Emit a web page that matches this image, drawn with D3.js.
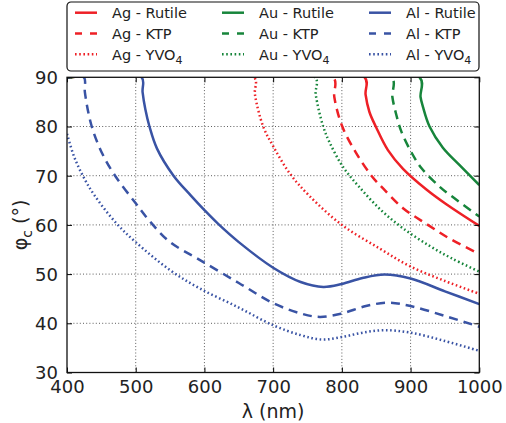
<!DOCTYPE html>
<html>
<head>
<meta charset="utf-8">
<script src="https://cdn.jsdelivr.net/npm/d3@7"></script>
<style>
  html, body { margin: 0; padding: 0; background: #fff; }
  svg { display: block; font-family: "DejaVu Sans", sans-serif; }
</style>
</head>
<body>
<svg id="chart" width="506" height="423"></svg>
<script>
// Critical angle φc versus wavelength λ for three metals on three substrates.
const wavelengthTicks = [400, 500, 600, 700, 800, 900, 1000];
const angleTicks = [30, 40, 50, 60, 70, 80, 90];

// [λ (nm), φc (°)]
const agRutile = [[400,90],[833,90],[834.5,86.5],[840,83],[850,79.8],[867,75.2],[889,71.4],[923,67.2],[952,64.2],[1000,59.8]];
const agKTP    = [[400,90],[787,90],[789,86],[800,80.2],[820,74.8],[843,70],[860,67.4],[889,63.4],[923,60.2],[957,57.2],[1000,54.1]];
const agYVO4   = [[400,90],[672,90],[673.5,86.5],[685.5,80],[700,76],[724,70.5],[752,66],[800,60],[855,55.2],[899,51.6],[950,48.6],[1000,46.0]];

const auRutile = [[400,90],[913,90],[914.5,86],[918,84],[927.6,80],[947,75.7],[971,72.2],[1000,68.1]];
const auKTP    = [[400,90],[872,90],[873.5,86],[879,82.5],[886.5,79],[901,74.8],[916,71.5],[942,67.8],[960,65.8],[1000,61.7]];
const auYVO4   = [[400,90],[760.7,90],[762,86.5],[772.8,80],[782,76.8],[801.6,71.8],[826,67.6],[857,63],[889,59.3],[928,55.7],[960,53.2],[1000,50.5]];

const alRutile = [[400,90],[508.5,90],[510,87],[514,83.5],[520,80],[531,75.5],[555,70],[580,66],[600,63],[620,60.2],[650,56.5],[700,51.3],[740,48.4],[773,47.4],[800,48.0],[830,49.2],[862,49.9],[900,49.1],[950,46.5],[1000,43.9]];
const alKTP    = [[400,90],[424.5,90],[426,87],[436,80],[452,74.3],[470,70],[500,64.4],[522,60.5],[550,56.5],[593,52.9],[650,48.2],[700,44.1],[740,42],[768,41.3],[800,42.0],[835,43.5],[867,44.2],[900,43.5],[950,41.5],[1000,39.3]];
const alYVO4   = [[400,78.5],[410,74],[423,70],[440,66],[472,60.3],[500,56.5],[550,50.8],[593,47.1],[650,43.2],[700,39.6],[740,37.6],[771,36.7],[800,37.2],[830,38.1],[862,38.6],[900,38.1],[950,36.4],[1000,34.4]];

const metalColors = { Ag: "#ee2026", Au: "#17853b", Al: "#3953a4" };
const substrateDash = { Rutile: null, KTP: "9,6", YVO4: "1.6,2.6" };
const substrateLabels = { Rutile: ["Rutile", null], KTP: ["KTP", null], YVO4: ["YVO", "4"] };

const series = [
  { metal: "Ag", substrate: "Rutile", values: agRutile },
  { metal: "Ag", substrate: "KTP",    values: agKTP },
  { metal: "Ag", substrate: "YVO4",   values: agYVO4 },
  { metal: "Au", substrate: "Rutile", values: auRutile },
  { metal: "Au", substrate: "KTP",    values: auKTP },
  { metal: "Au", substrate: "YVO4",   values: auYVO4 },
  { metal: "Al", substrate: "Rutile", values: alRutile },
  { metal: "Al", substrate: "KTP",    values: alKTP },
  { metal: "Al", substrate: "YVO4",   values: alYVO4 }
];

const svg = d3.select("#chart");
const plot = { left: 67, right: 479.3, top: 77.3, bottom: 372.5 };

const x = d3.scaleLinear().domain([400, 1000]).range([plot.left, plot.right]);
const y = d3.scaleLinear().domain([30, 90]).range([plot.bottom, plot.top]);

svg.append("defs").append("clipPath").attr("id", "plotClip")
  .append("rect")
  .attr("x", plot.left).attr("y", plot.top)
  .attr("width", plot.right - plot.left).attr("height", plot.bottom - plot.top);

// Dotted grid at every tick
const grid = svg.append("g").attr("stroke", "#333").attr("stroke-width", 0.8).attr("stroke-dasharray", "1,2.2");
grid.selectAll("line.vx").data(wavelengthTicks.slice(1, -1)).join("line")
  .attr("x1", d => x(d)).attr("x2", d => x(d))
  .attr("y1", plot.top).attr("y2", plot.bottom);
grid.selectAll("line.hy").data(angleTicks.slice(1, -1)).join("line")
  .attr("y1", d => y(d)).attr("y2", d => y(d))
  .attr("x1", plot.left).attr("x2", plot.right);

// Curves (centripetal Catmull-Rom keeps the steep onsets smooth)
const line = d3.line().x(d => x(d[0])).y(d => y(d[1])).curve(d3.curveCatmullRom.alpha(0.5));
svg.append("g").attr("clip-path", "url(#plotClip)")
  .selectAll("path").data(series).join("path")
  .attr("d", d => line(d.values))
  .attr("fill", "none")
  .attr("stroke", d => metalColors[d.metal])
  .attr("stroke-width", 2.5)
  .attr("stroke-dasharray", d => substrateDash[d.substrate]);

// Axes with inward ticks on all sides
const tickLen = 5;
const axisBottom = svg.append("g").attr("transform", `translate(0,${plot.bottom})`)
  .call(d3.axisBottom(x).tickValues(wavelengthTicks).tickSize(-tickLen).tickPadding(8).tickFormat(d3.format("d")));
const axisTop = svg.append("g").attr("transform", `translate(0,${plot.top})`)
  .call(d3.axisTop(x).tickValues(wavelengthTicks).tickSize(-tickLen).tickFormat(""));
const axisLeft = svg.append("g").attr("transform", `translate(${plot.left},0)`)
  .call(d3.axisLeft(y).tickValues(angleTicks).tickSize(-tickLen).tickPadding(9).tickFormat(d3.format("d")));
const axisRight = svg.append("g").attr("transform", `translate(${plot.right},0)`)
  .call(d3.axisRight(y).tickValues(angleTicks).tickSize(-tickLen).tickFormat(""));

[axisBottom, axisTop, axisLeft, axisRight].forEach(a => {
  a.select(".domain").remove();
  a.selectAll(".tick line").attr("stroke", "#000").attr("stroke-width", 1);
  a.selectAll(".tick text").attr("fill", "#222").style("font-size", "18px")
    .style("font-family", "'DejaVu Sans', sans-serif");
});
axisBottom.selectAll(".tick text").attr("dy", "0.71em");
axisLeft.selectAll(".tick text").attr("dy", "0.36em");

// Frame
svg.append("rect")
  .attr("x", plot.left).attr("y", plot.top)
  .attr("width", plot.right - plot.left).attr("height", plot.bottom - plot.top)
  .attr("fill", "none").attr("stroke", "#111").attr("stroke-width", 1.3);

// Axis titles
svg.append("text")
  .attr("x", (plot.left + plot.right) / 2).attr("y", 418)
  .attr("text-anchor", "middle").attr("fill", "#222").style("font-size", "19px")
  .text("λ (nm)");

const yTitle = svg.append("text")
  .attr("transform", `translate(27,${(plot.top + plot.bottom) / 2}) rotate(-90)`)
  .attr("text-anchor", "middle").attr("fill", "#222").style("font-size", "19px");
yTitle.append("tspan").text("φ");
yTitle.append("tspan").attr("dy", 5).style("font-size", "14px").text("c");
yTitle.append("tspan").attr("dy", -5).text("\u00a0(°)");

// Legend
const legend = svg.append("g");
legend.append("rect")
  .attr("x", 67).attr("y", 2).attr("width", 412).attr("height", 69)
  .attr("rx", 4).attr("ry", 4)
  .attr("fill", "#fff").attr("stroke", "#111").attr("stroke-width", 1.2);

const legendCols = { Ag: 75, Au: 222, Al: 369 };
const legendRows = { Rutile: 12.7, KTP: 33.5, YVO4: 54.3 };
const items = legend.selectAll("g.item").data(series).join("g")
  .attr("transform", d => `translate(${legendCols[d.metal]},${legendRows[d.substrate]})`);
items.append("line")
  .attr("x1", 0).attr("x2", 22).attr("y1", 0).attr("y2", 0)
  .attr("stroke", d => metalColors[d.metal]).attr("stroke-width", 2.5)
  .attr("stroke-dasharray", d => d.substrate === "KTP" ? "7,8" : substrateDash[d.substrate]);
const labels = items.append("text")
  .attr("x", 37).attr("y", 5.3).attr("fill", "#222").style("font-size", "14.5px");
labels.append("tspan").text(d => `${d.metal} - ${substrateLabels[d.substrate][0]}`);
labels.filter(d => substrateLabels[d.substrate][1])
  .append("tspan").attr("dy", 4).style("font-size", "11px")
  .text(d => substrateLabels[d.substrate][1]);
</script>
</body>
</html>
